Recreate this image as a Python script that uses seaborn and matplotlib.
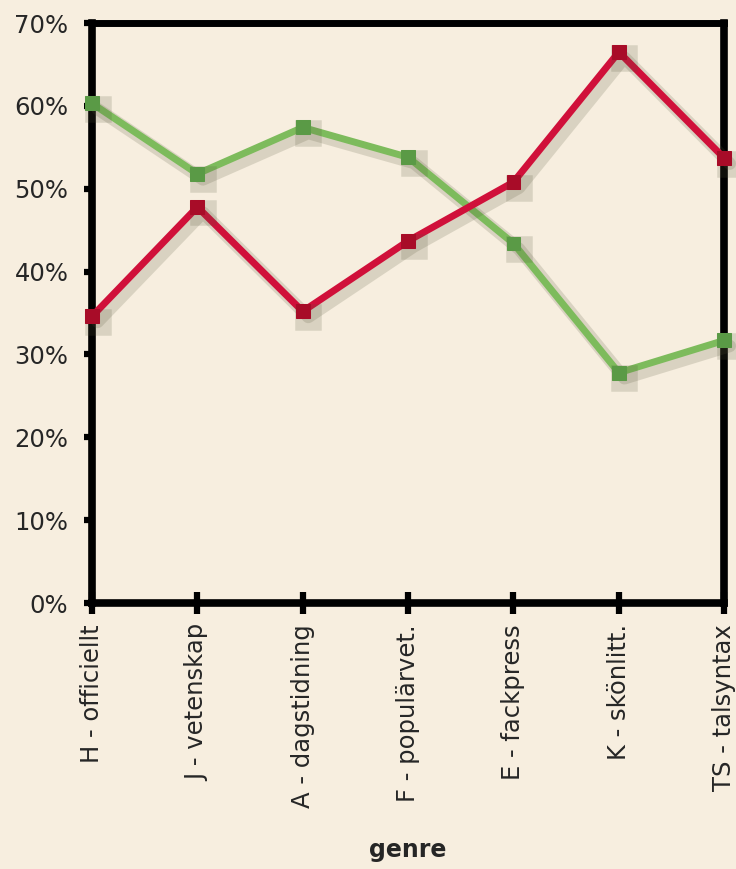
import pandas as pd
import numpy as np
import matplotlib
matplotlib.use('Agg')
import matplotlib.pyplot as plt
import matplotlib.patheffects as pe
import seaborn as sns

# data
genres = ['H - officiellt', 'J - vetenskap', 'A - dagstidning', 'F - populärvet.',
          'E - fackpress', 'K - skönlitt.', 'TS - talsyntax']
green_vals = [60.3, 51.8, 57.4, 53.8, 43.4, 27.8, 31.7]
red_vals = [34.6, 47.8, 35.2, 43.7, 50.8, 66.5, 53.7]

df = pd.DataFrame({
    'genre': genres * 2,
    'pos': list(range(len(genres))) * 2,
    'andel': green_vals + red_vals,
    'serie': ['grön'] * len(genres) + ['röd'] * len(genres),
})

sns.set_style('white')
plt.rcParams['font.family'] = ['DejaVu Sans']

bg = '#f7eedf'
txt = '#262626'
fig = plt.figure(figsize=(7.36, 8.69), dpi=100, facecolor=bg)
ax = fig.add_axes([0.125, 0.306, 0.859, 0.6675])
ax.set_facecolor(bg)

shadow = [pe.SimpleLineShadow(offset=(4, -4), shadow_color='#55553a', alpha=0.18, linewidth=9),
          pe.Normal()]
sns.lineplot(data=df, x='pos', y='andel', hue='serie',
             palette={'grön': '#7dbb5c', 'röd': '#d0103a'},
             marker='s', markersize=10, linewidth=5, legend=False, ax=ax)
for line, mc in zip(ax.get_lines(), ['#5a9a46', '#a80c28']):
    line.set_markerfacecolor(mc)
    line.set_markeredgecolor(mc)
    line.set_clip_on(False)
    line.set_path_effects(shadow)

ax.set_xlim(0, len(genres) - 1)
ax.set_ylim(0, 70)
ax.set_xticks(range(len(genres)))
ax.set_xticklabels(genres, rotation=90, fontsize=17.5, color=txt)
ax.set_yticks(range(0, 71, 10))
ax.set_yticklabels([f'{v}%' for v in range(0, 71, 10)], fontsize=17.5, color=txt)
ax.tick_params(axis='x', bottom=True, direction='inout', length=16, width=4.5, color='black', pad=7)
ax.tick_params(axis='y', left=True, direction='out', length=6, width=4.5, color='black', pad=11)
for s in ['left', 'bottom', 'right']:
    ax.spines[s].set_linewidth(5.5)
    ax.spines[s].set_color('black')
ax.spines['top'].set_linewidth(5)
ax.spines['top'].set_color('black')
for s in ax.spines.values():
    s.set_zorder(1)
ax.set_xlabel('genre', fontsize=17, fontweight='bold', color=txt, labelpad=22)
ax.set_ylabel('')

fig.savefig('out.png', dpi=100, facecolor=bg)
